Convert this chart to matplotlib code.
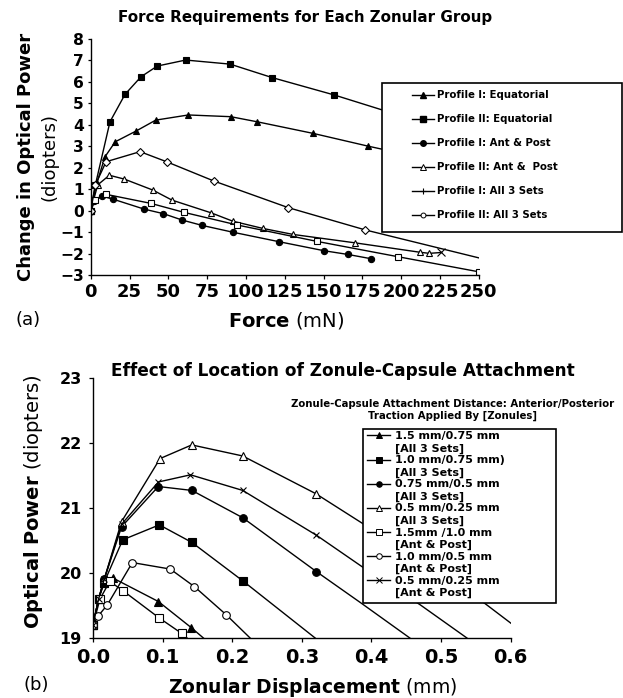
import matplotlib
matplotlib.use("Agg")
import matplotlib.pyplot as plt
from matplotlib.lines import Line2D
from matplotlib.patches import Rectangle

# (a) force (mN) -> changement de puissance optique (D)
p1_eq_x = [0, 4, 9.2, 15.8, 29.2, 41.9, 62.9, 90.2, 107.4, 143.4, 178.5, 188]
p1_eq_y = [0, 1.3, 2.51, 3.21, 3.71, 4.22, 4.46, 4.38, 4.14, 3.6, 3.01, 2.86]
p2_eq_x = [0, 3, 12.4, 22.1, 32.4, 42.9, 61.2, 89.8, 117, 157, 188]
p2_eq_y = [0, 1.2, 4.14, 5.42, 6.24, 6.74, 7.02, 6.83, 6.2, 5.39, 4.69]
p1_ap_x = [0, 2, 7, 14.2, 34.5, 46.8, 59, 71.9, 91.9, 121.5, 150.5, 165.6, 180.6]
p1_ap_y = [0, 0.45, 0.68, 0.54, 0.07, -0.14, -0.44, -0.69, -1.01, -1.45, -1.87, -2.04, -2.24]
p2_ap_x = [0, 4.5, 12, 21.7, 40, 52.4, 77.5, 91.5, 111, 130.5, 170.3, 212.2, 218.2, 226]
p2_ap_y = [0, 1.2, 1.65, 1.47, 0.96, 0.49, -0.1, -0.49, -0.83, -1.11, -1.5, -1.94, -1.99, -1.95]
p1_all_x = [0, 3, 9.9, 38.7, 60.1, 94.5, 145.6, 198.2, 250]
p1_all_y = [0, 0.5, 0.76, 0.34, -0.08, -0.67, -1.43, -2.15, -2.85]
p2_all_x = [0, 3, 9.9, 31.8, 48.9, 79.4, 127.3, 177, 250]
p2_all_y = [0, 1.2, 2.28, 2.75, 2.28, 1.38, 0.14, -0.9, -2.2]
labels_a = ["Profile I: Equatorial", "Profile II: Equatorial", "Profile I: Ant & Post",
            "Profile II: Ant &  Post", "Profile I: All 3 Sets", "Profile II: All 3 Sets"]

# (b) deplacement zonulaire (mm) -> puissance optique (D)
s1_x = [0, 0.008, 0.016, 0.029, 0.094, 0.141, 0.1585]
s1_y = [19.2, 19.6, 19.85, 19.92, 19.56, 19.16, 19.0]
s2_x = [0, 0.008, 0.0158, 0.0427, 0.0953, 0.142, 0.215, 0.319]
s2_y = [19.2, 19.6, 19.85, 20.51, 20.74, 20.47, 19.88, 19.0]
s3_x = [0, 0.008, 0.016, 0.041, 0.0938, 0.142, 0.215, 0.321, 0.386, 0.455]
s3_y = [19.2, 19.6, 19.9, 20.71, 21.33, 21.27, 20.85, 20.02, 19.53, 19.0]
s4_x = [0, 0.008, 0.016, 0.041, 0.0963, 0.1418, 0.215, 0.320, 0.386, 0.563, 0.606]
s4_y = [19.2, 19.6, 19.9, 20.79, 21.76, 21.97, 21.8, 21.22, 20.77, 19.53, 19.18]
s5_x = [0, 0.01, 0.024, 0.0427, 0.0948, 0.1274, 0.135]
s5_y = [19.2, 19.6, 19.87, 19.73, 19.31, 19.07, 19.0]
s6_x = [0, 0.0076, 0.0206, 0.0565, 0.111, 0.1456, 0.191, 0.2256]
s6_y = [19.2, 19.34, 19.51, 20.16, 20.06, 19.79, 19.36, 19.0]
s7_x = [0, 0.008, 0.016, 0.041, 0.094, 0.140, 0.215, 0.321, 0.386, 0.47, 0.537]
s7_y = [19.2, 19.6, 19.9, 20.75, 21.4, 21.51, 21.27, 20.58, 20.1, 19.51, 19.0]
labels_b = ["1.5 mm/0.75 mm", "1.0 mm/0.75 mm)", "0.75 mm/0.5 mm", "0.5 mm/0.25 mm",
            "1.5mm /1.0 mm", "1.0 mm/0.5 mm", "0.5 mm/0.25 mm"]
groupes_b = ["[All 3 Sets]"] * 4 + ["[Ant & Post]"] * 3


def courbe(ax, x, y, marker, plein, nb_marques, ms):
    # nb_marques : nombre de points (depuis le debut) qui portent un marqueur
    ax.plot(x, y, color="black", lw=1.0, marker=marker, ms=ms,
            mfc="black" if plein else "white", mec="black", mew=0.8,
            markevery=list(range(nb_marques)), zorder=2)


fig = plt.figure(figsize=(6.23, 6.98), dpi=100)

# ---------- (a)
ax1 = fig.add_axes([0.1456, 0.606, 0.6228, 0.3381])
courbe(ax1, p1_eq_x, p1_eq_y, "^", True, len(p1_eq_x) - 1, 5)
courbe(ax1, p2_eq_x, p2_eq_y, "s", True, len(p2_eq_x) - 1, 4.5)
courbe(ax1, p1_ap_x, p1_ap_y, "o", True, len(p1_ap_x), 4.5)
courbe(ax1, p2_ap_x, p2_ap_y, "^", False, len(p2_ap_x) - 1, 5)
ax1.plot(p2_ap_x[-1:], p2_ap_y[-1:], "x", color="black", ms=6, mew=0.8)
courbe(ax1, p1_all_x, p1_all_y, "s", False, len(p1_all_x), 5)
courbe(ax1, p2_all_x, p2_all_y, "D", False, len(p2_all_x) - 1, 4.5)

ax1.set_xlim(0, 250)
ax1.set_ylim(-3, 8)
ax1.set_xticks(range(0, 251, 25))
ax1.set_yticks(range(-3, 9))
ax1.tick_params(axis="y", direction="out", length=2.5, width=0.9, pad=2.5, labelsize=11.2)
ax1.tick_params(axis="x", direction="out", length=3, width=0.9, pad=3, labelsize=13)

fig.text(0.49, 0.9756, "Force Requirements for Each Zonular Group",
         ha="center", va="center", fontsize=10.9, fontweight="bold")
fig.text(0.042, 0.775, "Change in Optical Power", rotation=90, ha="center", va="center",
         fontsize=13, fontweight="bold")
fig.text(0.080, 0.775, "(diopters)", rotation=90, ha="center", va="center", fontsize=13)
fig.text(0.459, 0.5415, r"$\bf{Force}$ (mN)", ha="center", va="center", fontsize=14)
fig.text(0.045, 0.5415, "(a)", ha="center", va="center", fontsize=13)

ax1.add_patch(Rectangle((0.6132, 0.6676), 0.3852, 0.2135, transform=fig.transFigure,
                        facecolor="white", edgecolor="black", lw=1.2, clip_on=False, zorder=4))
poignees_a = [
    Line2D([], [], color="black", lw=1, marker="^", ms=4, mfc="black"),
    Line2D([], [], color="black", lw=1, marker="s", ms=4, mfc="black"),
    Line2D([], [], color="black", lw=1, marker="o", ms=4, mfc="black"),
    Line2D([], [], color="black", lw=1, marker="^", ms=4, mfc="white", mew=0.7),
    Line2D([], [], color="black", lw=1, marker="+", ms=5, mew=0.8),
    Line2D([], [], color="black", lw=1, marker="o", ms=3.5, mfc="white", mew=0.7),
]
ax1.legend(poignees_a, labels_a, loc="upper left", bbox_to_anchor=(0.6608, 0.8705),
           bbox_transform=fig.transFigure, frameon=False, borderpad=0, borderaxespad=0,
           handlelength=2.2, handletextpad=0.25, labelspacing=1.38,
           prop={"weight": "bold", "size": 7.3})

# ---------- (b)
ax2 = fig.add_axes([0.1493, 0.086, 0.6705, 0.3725])
courbe(ax2, s1_x, s1_y, "^", True, len(s1_x) - 1, 5.5)
courbe(ax2, s2_x, s2_y, "s", True, len(s2_x) - 1, 5.5)
courbe(ax2, s3_x, s3_y, "o", True, len(s3_x) - 2, 5.5)
courbe(ax2, s4_x, s4_y, "^", False, 8, 5.5)
courbe(ax2, s5_x, s5_y, "s", False, len(s5_x) - 1, 5.5)
courbe(ax2, s6_x, s6_y, "o", False, len(s6_x) - 1, 5.5)
courbe(ax2, s7_x, s7_y, "x", False, 8, 4.5)

ax2.set_xlim(0, 0.6)
ax2.set_ylim(19, 23)
ax2.set_xticks([0.0, 0.1, 0.2, 0.3, 0.4, 0.5, 0.6])
ax2.set_xticklabels(["0.0", "0.1", "0.2", "0.3", "0.4", "0.5", "0.6"])
ax2.set_yticks([19, 20, 21, 22, 23])
ax2.tick_params(axis="y", direction="out", length=3, width=0.9, pad=5, labelsize=11.5)
ax2.tick_params(axis="x", direction="out", length=3, width=0.9, pad=4, labelsize=14)

fig.text(0.5506, 0.469, "Effect of Location of Zonule-Capsule Attachment",
         ha="center", va="center", fontsize=12.2, fontweight="bold")
fig.text(0.0535, 0.2815, r"$\bf{Optical\ Power}$ (diopters)", rotation=90,
         ha="center", va="center", fontsize=14)
fig.text(0.5024, 0.0157, r"$\bf{Zonular\ Displacement}$ (mm)", ha="center", va="center",
         fontsize=13.5)
fig.text(0.058, 0.0186, "(b)", ha="center", va="center", fontsize=13)
fig.text(0.727, 0.4126, "Zonule-Capsule Attachment Distance: Anterior/Posterior\n"
         "Traction Applied By [Zonules]", ha="center", va="center", fontsize=7.3,
         fontweight="bold", linespacing=1.1)

ax2.add_patch(Rectangle((0.5827, 0.1361), 0.3098, 0.2493, transform=fig.transFigure,
                        facecolor="white", edgecolor="black", lw=1.2, clip_on=False, zorder=4))
styles_b = [("^", "black"), ("s", "black"), ("o", "black"), ("^", "white"),
            ("s", "white"), ("o", "white"), ("x", "white")]
poignees_b = []
textes_b = []
for (m, fc), lab, grp in zip(styles_b, labels_b, groupes_b):
    poignees_b.append(Line2D([], [], color="black", lw=1, marker=m, ms=4, mfc=fc, mew=0.7))
    poignees_b.append(Line2D([], [], linestyle="none"))
    textes_b += [lab, grp]
ax2.legend(poignees_b, textes_b, loc="upper left", bbox_to_anchor=(0.589, 0.382),
           bbox_transform=fig.transFigure, frameon=False, borderpad=0, borderaxespad=0,
           handlelength=2.1, handletextpad=0.4, labelspacing=0.17,
           prop={"weight": "bold", "size": 8})

for ax in (ax1, ax2):
    ax.spines["top"].set_visible(False)
    ax.spines["right"].set_visible(False)
    ax.spines["left"].set_linewidth(1.0)
    ax.spines["bottom"].set_linewidth(1.0)
    for lab in ax.get_xticklabels() + ax.get_yticklabels():
        lab.set_fontweight("bold")

fig.savefig("out.png", dpi=100)
